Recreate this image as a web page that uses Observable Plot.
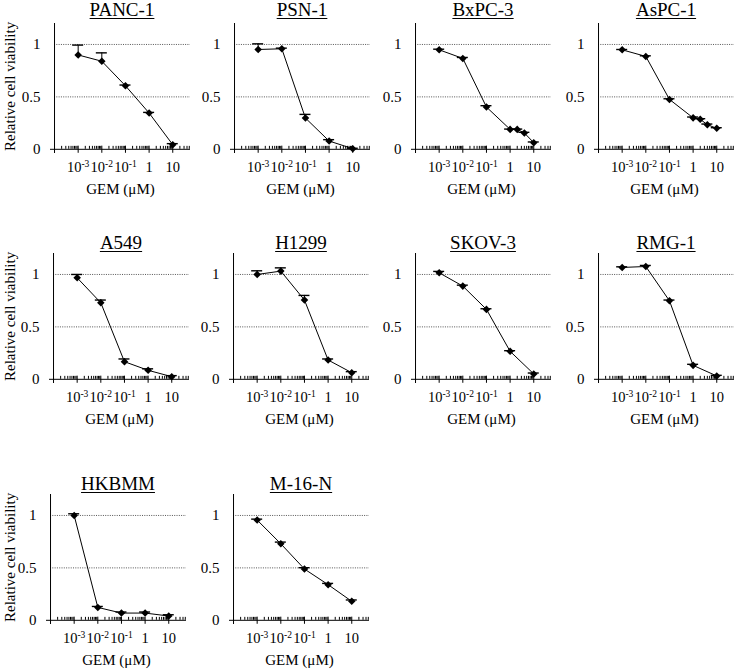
<!DOCTYPE html>
<html><head><meta charset="utf-8">
<script src="https://cdn.jsdelivr.net/npm/d3@7"></script>
<script src="https://cdn.jsdelivr.net/npm/@observablehq/plot@0.6"></script>
<style>
body{margin:0;background:#fff;}
#wrap{position:relative;width:745px;height:671px;font-family:'Liberation Serif','Times New Roman',serif;color:#000;}
#wrap svg, #wrap svg text, #wrap svg tspan{font-family:'Liberation Serif','Times New Roman',serif !important;}
.title{position:absolute;width:136px;text-align:center;font-size:19px;line-height:19px;text-decoration:underline;text-decoration-thickness:1.3px;text-underline-offset:2px;white-space:nowrap;}
</style></head><body><div id="wrap"></div>
<script>
// ---- data ----
const cellLines = ["PANC-1","PSN-1","BxPC-3","AsPC-1","A549","H1299","SKOV-3","RMG-1","HKBMM","M-16-N"];
const doses = [0.001, 0.01, 0.1, 1, 10];
const dosesExtended = [0.001, 0.01, 0.1, 1, 2, 4, 10];

const panc1 = [0.90, 0.84, 0.606, 0.346, 0.044];
const panc1Sd = [0.094, 0.08, 0.007, 0.006, 0.01];
const psn1 = [0.952, 0.959, 0.298, 0.079, 0.006];
const psn1Sd = [0.054, 0.006, 0.035, 0.013, 0.004];
const bxpc3 = [0.949, 0.867, 0.403, 0.19, 0.19, 0.156, 0.063];
const bxpc3Sd = [0.006, 0.009, 0.013, 0.003, 0.003, 0.006, 0.007];
const aspc1 = [0.949, 0.886, 0.476, 0.30, 0.286, 0.235, 0.20];
const aspc1Sd = [0.003, 0.006, 0.006, 0.008, 0.006, 0.006, 0.006];
const a549 = [0.968, 0.73, 0.168, 0.086, 0.025];
const a549Sd = [0.032, 0.026, 0.026, 0.014, 0.01];
const h1299 = [1.0, 1.032, 0.756, 0.184, 0.063];
const h1299Sd = [0.035, 0.031, 0.044, 0.01, 0.01];
const skov3 = [1.016, 0.889, 0.667, 0.267, 0.051];
const skov3Sd = [0.013, 0.009, 0.006, 0.006, 0.009];
const rmg1 = [1.067, 1.076, 0.749, 0.133, 0.032];
const rmg1Sd = [0.006, 0.01, 0.007, 0.01, 0.006];
const hkbmm = [1.0, 0.123, 0.069, 0.069, 0.041];
const hkbmmSd = [0.016, 0.009, 0.01, 0.01, 0.012];
const m16n = [0.956, 0.73, 0.489, 0.34, 0.181];
const m16nSd = [0.009, 0.016, 0.013, 0.012, 0.013];

const yTicks = [0, 0.5, 1];
const yTickLabels = ["0", "0.5", "1"];
const gridValues = [0.5, 1];
const xTickValues = [0.001, 0.01, 0.1, 1, 10];
const xTickLabels = ["10^-3", "10^-2", "10^-1", "1", "10"];
const xLabel = "GEM (\u03bcM)";
const yLabel = "Relative cell viability";

// ---- assembly ----
const dosesBy = [doses, doses, dosesExtended, dosesExtended, doses, doses, doses, doses, doses, doses];
const valuesBy = [panc1, psn1, bxpc3, aspc1, a549, h1299, skov3, rmg1, hkbmm, m16n];
const sdBy = [panc1Sd, psn1Sd, bxpc3Sd, aspc1Sd, a549Sd, h1299Sd, skov3Sd, rmg1Sd, hkbmmSd, m16nSd];

// layout
const axisLeft = [54, 234, 415, 598, 53, 233, 415, 598, 50, 233];
const rowZero = [149, 379, 620];
const titleTop = [0, 233, 474];
const yLabelCenter = 10;

const axisStart = 1e-4;
const xMin = Math.pow(10, -4.17);
const xMax = Math.pow(10, 1.75);
const majorTicks = [0.001, 0.01, 0.1, 1, 10];
const minorTicks = [];
for (let e = -4; e <= 1; e++) for (let k = 2; k <= 9; k++) { const v = k * Math.pow(10, e); if (v < xMax) minorTicks.push(v); }

const ML = 50, MR = 6, MT = 4, MB = 58, FW = 140, FH = 130;
const yMin = -0.04, yMax = 1.2;
const zeroOffset = MT + FH * (yMax / (yMax - yMin));

const wrap = document.getElementById("wrap");
const font = "'Liberation Serif','Times New Roman',serif";

cellLines.forEach((name, i) => {
  const col = i % 4, row = Math.floor(i / 4);
  const rows = dosesBy[i].map((c, j) => ({c, v: valuesBy[i][j], top: valuesBy[i][j] + sdBy[i][j]}));
  const marks = [
    Plot.ruleY(gridValues, {x1: axisStart, x2: xMax, stroke: "#555", strokeDasharray: "1,1.3"}),
    Plot.ruleX([axisStart], {stroke: "#000"}),
    Plot.ruleY([0], {stroke: "#000"}),
    Plot.ruleX(minorTicks, {y1: 0, y2: 0.028, stroke: "#000"}),
    Plot.ruleX(majorTicks, {y1: -0.038, y2: 0.03, stroke: "#000"}),
    Plot.axisY({ticks: yTicks, tickFormat: d => yTickLabels[yTicks.indexOf(d)], tickSize: 0, tickPadding: 10, fontSize: 15, fontFamily: font, label: null}),
    Plot.axisX({ticks: xTickValues, tickFormat: d => xTickLabels[xTickValues.indexOf(d)], tickSize: 0, tickPadding: 8, fontSize: 14.5, fontFamily: font, label: null}),
    Plot.text([xLabel], {frameAnchor: "bottom", dy: 40, fontSize: 15, fontFamily: font}),
    Plot.ruleX(rows, {x: "c", y1: "v", y2: "top", stroke: "#000"}),
    Plot.ruleY(rows, {x1: "c", x2: "c", y: "top", insetLeft: -5.5, insetRight: -5.5, stroke: "#000", strokeWidth: 1.4}),
    Plot.line(rows, {x: "c", y: "v", stroke: "#000", strokeWidth: 1}),
    Plot.dot(rows, {x: "c", y: "v", symbol: "diamond2", r: 3.4, fill: "#000"})
  ];
  if (col === 0) marks.push(Plot.text([yLabel], {x: axisStart, y: 0.6, rotate: -90, dx: yLabelCenter - axisLeft[i], fontSize: 15, fontFamily: font}));
  const svg = Plot.plot({
    width: ML + FW + MR, height: MT + FH + MB,
    marginLeft: ML, marginRight: MR, marginTop: MT, marginBottom: MB,
    x: {type: "log", domain: [xMin, xMax]},
    y: {domain: [yMin, yMax]},
    style: {fontFamily: font, fontSize: "15px", color: "#000", background: "transparent", overflow: "visible"},
    marks
  });
  d3.select(svg).selectAll("text").each(function() {
    const t = this.textContent;
    const k = t.indexOf("^");
    if (k < 0) return;
    const s = d3.select(this);
    s.text(null);
    s.append("tspan").text(t.slice(0, k));
    s.append("tspan").attr("font-size", 9.5).attr("dy", -5).text(t.slice(k + 1));
  });
  svg.style.position = "absolute";
  svg.style.left = (axisLeft[i] - 54) + "px";
  svg.style.top = (rowZero[row] - zeroOffset) + "px";
  wrap.appendChild(svg);
  const title = document.createElement("div");
  title.className = "title";
  title.textContent = name;
  title.style.left = axisLeft[i] + "px";
  title.style.top = titleTop[row] + "px";
  wrap.appendChild(title);
});
</script></body></html>
